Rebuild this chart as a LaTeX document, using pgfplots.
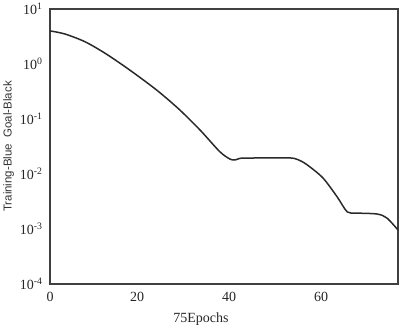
\documentclass[border=0pt]{standalone}
\usepackage{pgfplots}
\pgfplotsset{compat=1.18}
\usepackage{fontspec}
\setmainfont{Liberation Serif}
\newfontfamily\labelsans{Liberation Sans}
\usetikzlibrary{calc}
\definecolor{linec}{HTML}{2A2A2A}
\begin{document}
\begin{tikzpicture}
\begin{axis}[
  name=ax,
  scale only axis, width=348pt, height=275pt,
  ymode=log,
  xmin=1.1, xmax=76.7, ymin=1e-4, ymax=10,
  xtick={1.1,20,40,60}, xticklabels={0,20,40,60},
  ytick={1e-4,1e-3,1e-2,1e-1,1,10},
  yticklabels={10\textsuperscript{-4},10\textsuperscript{-3},10\textsuperscript{-2},10\textsuperscript{-1},10\textsuperscript{0},10\textsuperscript{1}},
  major tick length=0pt, minor tick length=0pt,
  ticklabel style={font=\fontsize{14}{16}\selectfont, text=black!85},
  xticklabel style={yshift=-5pt},
  yticklabel style={xshift=-4pt},
  axis line style={line width=1.6pt, black!75},
  xlabel={75Epochs},
  xlabel style={font=\fontsize{14}{16}\selectfont, text=black!85, xshift=-23pt, yshift=-4pt},
  ylabel={Training-Blue\ \ Goal-Black},
  ylabel style={font=\labelsans\fontsize{11.5}{13}\selectfont, text=black!80, yshift=-1pt},
  clip=true,
]
\addplot[linec, line width=1.5pt, smooth, tension=0.5] coordinates {
(1.1,4.0) (4.35,3.51) (8.7,2.54) (13.0,1.58) (17.4,0.893) (21.7,0.49)
(25.0,0.30) (29.3,0.146) (33.7,0.063) (38.0,0.0254) (40.2,0.0187)
(41.3,0.0180) (42.4,0.0193) (44.6,0.0195) (49.0,0.0197) (53.3,0.0196)
(55.0,0.0182) (57.0,0.0146) (60.4,0.00846) (63.5,0.00382) (65.7,0.00204)
(67.8,0.00195) (72.2,0.00187) (74.3,0.00158) (76.7,0.00096)
};
\end{axis}
\pgfresetboundingbox
\useasboundingbox ($(ax.south west)+(-50pt,-41pt)$) rectangle ($(ax.north east)+(2pt,9pt)$);
\end{tikzpicture}
\end{document}
